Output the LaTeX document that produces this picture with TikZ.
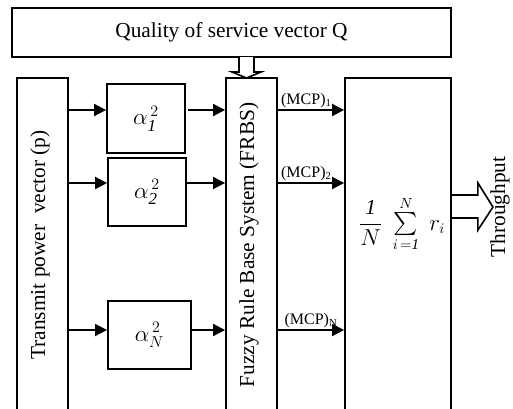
\documentclass[tikz,border=0pt]{standalone}
\usepackage{amsmath}
\usepackage{fontspec}
\setmainfont{Liberation Serif}
\usetikzlibrary{arrows.meta}
\usetikzlibrary{positioning}
\usetikzlibrary{calc}
\newcommand{\pxu}{0.75pt}

\begin{document}
\begin{tikzpicture}[x=0.75pt,y=-0.75pt,line width=1.4pt,
    blk/.style={draw,rectangle,inner sep=0pt},
    big/.style={font=\fontsize{16}{18}\selectfont},
    alf/.style={font=\fontsize{18}{20}\selectfont},
    arr/.style={-{Triangle[length=9pt,width=9pt]}},
    lbl/.style={font=\fontsize{12}{14}\selectfont,inner sep=1pt}
    ]
\useasboundingbox (0,0) rectangle (513,408);
\clip (0,0) rectangle (513,408);

% blocks
\node[blk,big,minimum width=439*\pxu,minimum height=49*\pxu] (Q) at (231.5,32.5) {Quality of service vector Q};
\node[blk,minimum width=51*\pxu,minimum height=344*\pxu] (tpv) at (42.5,250) {};
\node[blk,minimum width=51*\pxu,minimum height=344*\pxu] (frbs) at (251.5,250) {};
\node[blk,minimum width=106*\pxu,minimum height=344*\pxu] (avg) at (398,250) {};

\node[blk,alf,minimum width=78*\pxu,minimum height=69*\pxu] (a1) at (146,118.5) {$\alpha^{\,2}_{\mathit{1}}$};
\node[blk,alf,minimum width=78*\pxu,minimum height=68*\pxu] (a2) at (147,192) {$\alpha^{\,2}_{\mathit{2}}$};
\node[blk,alf,minimum width=83*\pxu,minimum height=68*\pxu] (aN) at (149.5,335) {$\alpha^{\,2}_{N}$};

% texts
\node[rotate=90,big] (tpvtxt) at (40,245) {Transmit power\ \ vector (p)};
\node[rotate=90,big] (frbstxt) at (249,245) {Fuzzy Rule Base System (FRBS)};
\node[big] (sumtxt) at (402,224) {$\dfrac{\mathit{1}}{N}\;\sum\limits_{i\,=\mathit{1}}^{N}\; r_i$};
\node[rotate=90,big] (thr) at (500,207) {Throughput};

% rows
\coordinate (r1) at (0,110);
\coordinate (r2) at (0,183);
\coordinate (rN) at (0,330);

\draw[arr] (tpv.east |- r1) -- (a1.west |- r1);
\draw[arr] (a1.east |- r1) ++(2,0) -- (frbs.west |- r1);
\draw[arr] (tpv.east |- r2) -- (a2.west |- r2);
\draw[arr] (a2.east |- r2) -- (frbs.west |- r2);
\draw[arr] (tpv.east |- rN) -- (aN.west |- rN);
\draw[arr] (aN.east |- rN) -- (frbs.west |- rN);

\draw[arr] (frbs.east |- r1) -- (avg.west |- r1) node[lbl,pos=0.43,above] {(MCP)\textsubscript{1}};
\draw[arr] (frbs.east |- r2) -- (avg.west |- r2) node[lbl,pos=0.43,above] {(MCP)\textsubscript{2}};
\draw[arr] (frbs.east |- rN) -- (avg.west |- rN) node[lbl,pos=0.5,above] {(MCP)\textsubscript{N}};

% hollow arrows
\coordinate (qtop) at (246.5,57);
\coordinate (qtip) at (246.5,78);
\draw[fill=white,line width=1.2pt] (qtop) ++(-7.5,0) -- ++(0,15) -- ++(-7,0) -- (qtip) -- ++(14.5,-6) -- ++(-7,0) -- ++(0,-15);

\coordinate (tp) at (avg.east |- {(0,206.5)});
\draw[line width=1.2pt] (tp) ++(0,-11.5) -- ++(26,0) -- ++(0,-12) -- ++(15,24) -- ++(-15,23) -- ++(0,-12) -- ++(-26,0);
\end{tikzpicture}
\end{document}
